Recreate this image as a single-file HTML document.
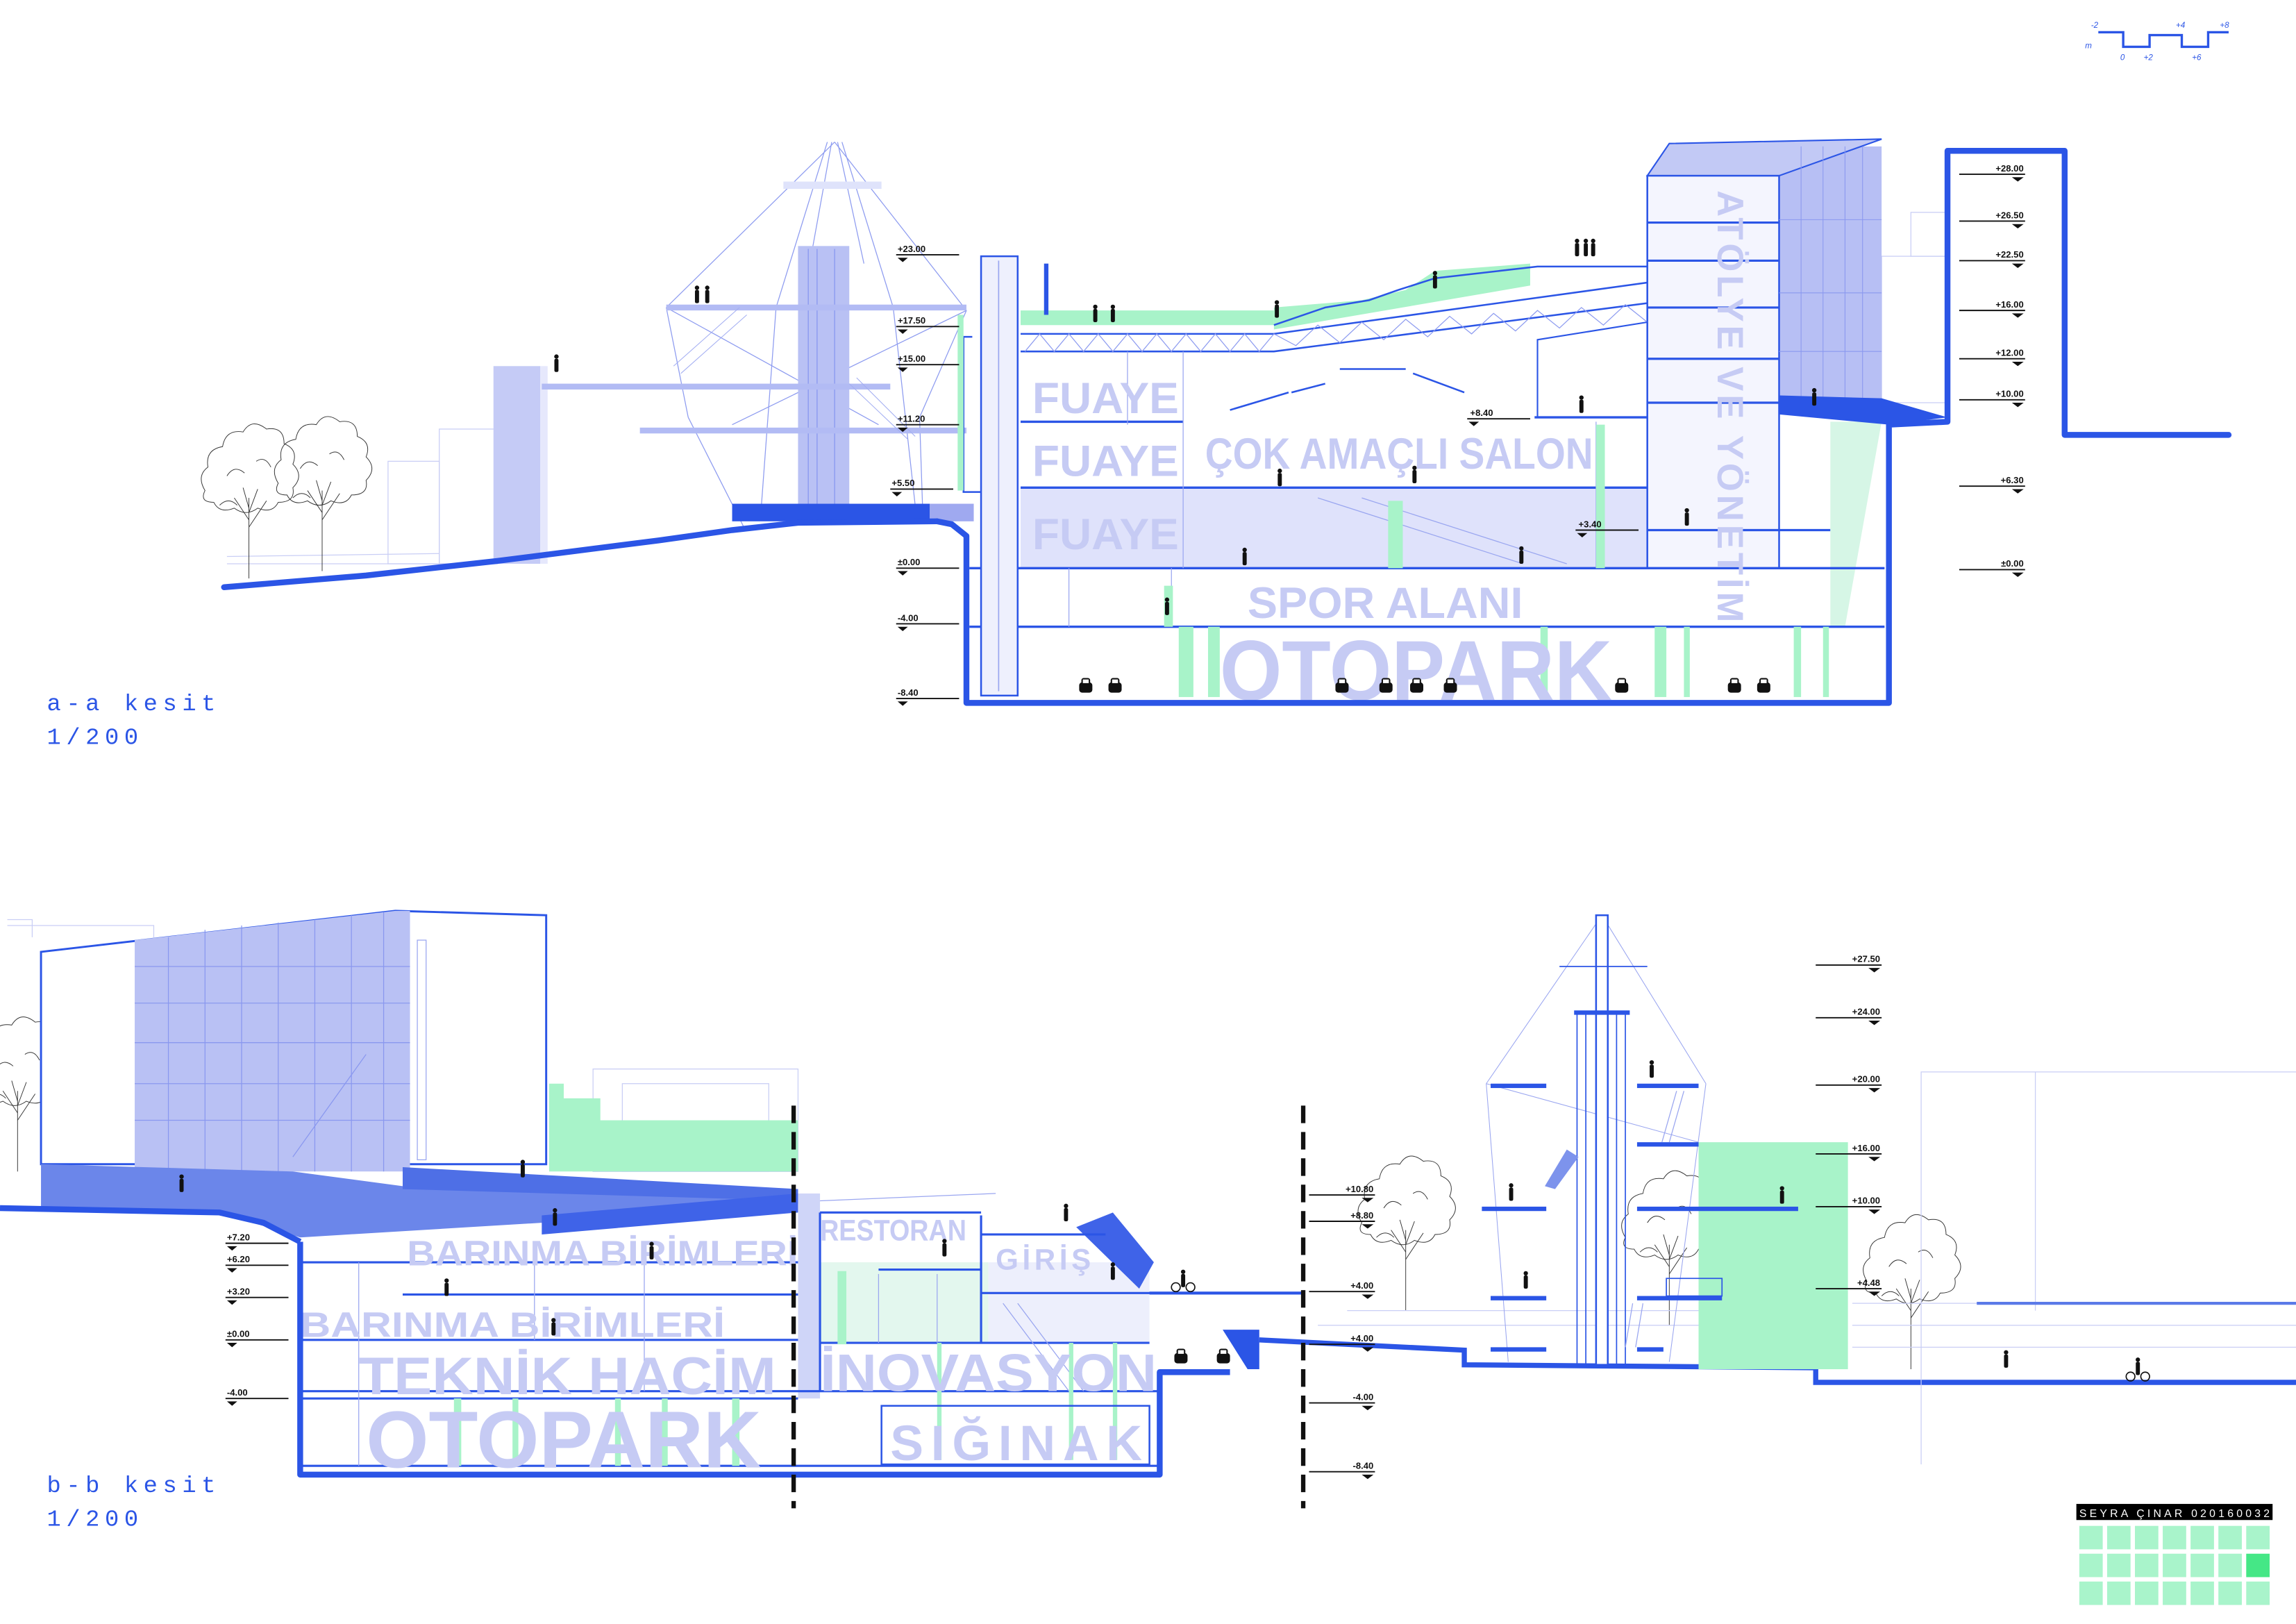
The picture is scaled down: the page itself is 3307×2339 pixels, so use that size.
<!DOCTYPE html>
<html><head><meta charset="utf-8"><style>
html,body{margin:0;padding:0;background:#fff;}
svg{display:block;}
text{font-family:"Liberation Sans",sans-serif;}
.lv{font-size:6.2px;fill:#111;font-weight:bold;}
.big{fill:#c6cbf4;font-weight:bold;}
.ttl{fill:#2b55e6;font-family:"Liberation Mono",monospace;font-size:16px;letter-spacing:3.6px;}
</style></head><body>
<svg width="3307" height="2339" viewBox="0 0 1568 1109" preserveAspectRatio="none" xmlns="http://www.w3.org/2000/svg">
<defs>
<g id="mk"><line x1="0" y1="2" x2="43" y2="2" stroke="#111" stroke-width="0.9"/><polygon points="1,4 8,4 4.5,7" fill="#111"/></g>
<g id="mkr"><line x1="0" y1="2" x2="45" y2="2" stroke="#111" stroke-width="0.9"/><polygon points="36,4 44,4 40,7" fill="#111"/></g>
<g id="car"><rect x="0" y="3" width="9" height="7" rx="2" fill="#111"/><rect x="1.5" y="0" width="6" height="5" rx="1.5" fill="#111"/><rect x="2.5" y="1" width="4" height="2.5" fill="#fff"/></g>
<g id="ppl"><circle cx="2" cy="1.5" r="1.5" fill="#111"/><rect x="0.6" y="3" width="2.8" height="9" rx="1" fill="#111"/></g>
<g id="tree" fill="none" stroke="#333" stroke-width="0.45">
<path d="M0,0 v-55"/><path d="M0,-40 l-10,-15 M0,-35 l12,-18 M0,-48 l-4,-14 M0,-45 l6,-16"/>
<path d="M-30,-60 q-6,-10 2,-16 q-2,-12 10,-14 q2,-12 14,-10 q6,-10 16,-2 q12,-2 12,10 q10,4 6,14 q8,8 0,16 q2,10 -10,10 q-4,8 -14,4 q-8,6 -16,0 q-10,4 -14,-4 q-10,0 -6,-8 z"/>
<path d="M-15,-70 q5,-8 12,-2 M5,-80 q6,-4 10,4 M-20,-50 q6,-6 12,0"/>
</g>
</defs>

<polyline points="1433,22 1450,22 1450,32 1468,32 1468,24 1490,24 1490,32 1508,32 1508,22 1522,22" fill="none" stroke="#2b55e6" stroke-width="1.6"/>
<g fill="#2b55e6" font-size="5.5" font-style="italic">
<text x="1428" y="19">-2</text><text x="1448" y="41">0</text><text x="1464" y="41">+2</text><text x="1486" y="19">+4</text><text x="1497" y="41">+6</text><text x="1516" y="19">+8</text><text x="1424" y="33">m</text></g>

<g fill="none" stroke="#c9cef5" stroke-width="0.6">
<rect x="300" y="293" width="38" height="92"/><rect x="265" y="315" width="35" height="70"/><rect x="1285" y="175" width="45" height="100"/><rect x="1305" y="145" width="25" height="30"/>
<line x1="155" y1="385" x2="340" y2="385"/><line x1="155" y1="380" x2="300" y2="378"/>
</g>
<use href="#tree" x="170" y="395"/><use href="#tree" x="220" y="390"/>
<rect x="337" y="250" width="32" height="135" fill="#c5cbf6"/>
<rect x="369" y="250" width="5" height="135" fill="#e6e8fc"/>
<g stroke="#8e9cf0" stroke-width="0.6" fill="none">
<line x1="570" y1="97" x2="455" y2="210"/><line x1="570" y1="97" x2="660" y2="212"/>
<line x1="565" y1="97" x2="530" y2="210"/><line x1="575" y1="97" x2="610" y2="210"/>
<line x1="568" y1="97" x2="553" y2="180"/><line x1="572" y1="97" x2="590" y2="180"/>
<line x1="455" y1="210" x2="470" y2="285"/><line x1="470" y1="285" x2="508" y2="360"/>
<line x1="660" y1="212" x2="628" y2="285"/><line x1="628" y1="285" x2="630" y2="345"/>
<line x1="530" y1="210" x2="520" y2="345"/><line x1="610" y1="210" x2="625" y2="345"/>
<line x1="455" y1="210" x2="600" y2="290"/><line x1="660" y1="212" x2="500" y2="290"/>
</g>
<rect x="535" y="124" width="67" height="5" fill="#dfe3fb"/>
<rect x="545" y="168" width="35" height="180" fill="#b9c1f4"/>
<g stroke="#8e9cf0" stroke-width="0.7"><line x1="552" y1="170" x2="552" y2="345"/><line x1="558" y1="170" x2="558" y2="345"/><line x1="570" y1="170" x2="570" y2="345"/></g>
<rect x="455" y="208" width="205" height="4" fill="#b2bbf4"/>
<rect x="370" y="262" width="238" height="4" fill="#b2bbf4"/>
<rect x="437" y="292" width="223" height="4" fill="#b2bbf4"/>
<g stroke="#a3aef2" stroke-width="0.5"><line x1="460" y1="250" x2="505" y2="210"/><line x1="465" y1="255" x2="510" y2="215"/><line x1="580" y1="262" x2="620" y2="300"/><line x1="585" y1="258" x2="625" y2="298"/></g>
<use href="#ppl" x="474" y="195"/><use href="#ppl" x="481" y="195"/><use href="#ppl" x="378" y="242"/>
<rect x="500" y="344" width="135" height="12" fill="#2b55e6"/><rect x="635" y="344" width="30" height="12" fill="#9fa9f0"/>
<polyline points="153,401 250,393 340,383 450,369 500,362 545,357 640,356" fill="none" stroke="#2b55e6" stroke-width="4" stroke-linecap="round"/>
<rect x="697" y="333" width="428" height="55" fill="#dfe2fb"/>
<rect x="1215" y="100" width="70" height="180" fill="#b7bff4"/>
<polygon points="1125,120 1140,98 1285,95 1215,120" fill="#c2c9f5" stroke="#2b55e6" stroke-width="1"/>
<rect x="1125" y="120" width="90" height="268" fill="#f4f5fe" stroke="#2b55e6" stroke-width="1.2"/>
<g stroke="#2b55e6" stroke-width="1.5"><line x1="1125" y1="152" x2="1215" y2="152"/><line x1="1125" y1="178" x2="1215" y2="178"/><line x1="1125" y1="210" x2="1215" y2="210"/><line x1="1125" y1="245" x2="1215" y2="245"/><line x1="1125" y1="275" x2="1215" y2="275"/><line x1="1125" y1="362" x2="1250" y2="362"/></g>
<g stroke="#8a98ef" stroke-width="0.5"><line x1="1230" y1="100" x2="1230" y2="280"/><line x1="1245" y1="100" x2="1245" y2="280"/><line x1="1260" y1="100" x2="1260" y2="280"/><line x1="1272" y1="100" x2="1272" y2="280"/><line x1="1215" y1="150" x2="1285" y2="150"/><line x1="1215" y1="200" x2="1285" y2="200"/><line x1="1215" y1="240" x2="1285" y2="240"/></g>
<polygon points="1250,288 1285,288 1260,428 1250,428" fill="#d6f6e6"/>
<polygon points="697,212 870,212 870,222 697,222" fill="#a8f3c9"/>
<polygon points="870,210 930,205 960,198 980,185 1045,180 1045,195 870,225" fill="#a8f3c9"/>
<g fill="none" stroke="#2b55e6" stroke-width="1.2">
<polyline points="697,228 870,228 1125,193"/>
<polyline points="697,240 870,240 1125,207"/>
<polyline points="870,222 905,210 935,205 955,198 980,190 1050,182 1125,182"/>
</g>
<g stroke="#8e9cf0" stroke-width="0.6" fill="none"><polyline points="700,240 710,228 720,240 730,228 740,240 750,228 760,240 770,228 780,240 790,228 800,240 810,228 820,240 830,228 840,240 850,228 860,240 870,228 885,236 900,222 915,234 930,220 945,232 960,218 975,230 990,216 1005,228 1020,214 1035,226 1050,212 1065,224 1080,210 1095,222 1110,208 1125,220"/></g>
<g stroke="#2b55e6" stroke-width="1.6">
<line x1="697" y1="288" x2="808" y2="288"/><line x1="697" y1="333" x2="1125" y2="333"/>
<line x1="662" y1="388" x2="1287" y2="388"/><line x1="662" y1="428" x2="1287" y2="428"/>
<line x1="1048" y1="285" x2="1125" y2="285"/>
</g>
<polyline points="1050,285 1050,232 1125,220" fill="none" stroke="#2b55e6" stroke-width="1"/>
<g stroke="#2b55e6" stroke-width="1.2"><line x1="840" y1="280" x2="880" y2="268"/><line x1="882" y1="268" x2="905" y2="262"/><line x1="915" y1="252" x2="960" y2="252"/><line x1="965" y1="255" x2="1000" y2="268"/></g>
<g stroke="#9aa6f0" stroke-width="0.6"><line x1="808" y1="240" x2="808" y2="333"/><line x1="770" y1="240" x2="770" y2="290"/><line x1="808" y1="333" x2="808" y2="388"/><line x1="1090" y1="288" x2="1090" y2="388"/><line x1="900" y1="340" x2="1040" y2="385"/><line x1="930" y1="340" x2="1070" y2="385"/><line x1="730" y1="388" x2="730" y2="428"/><line x1="800" y1="388" x2="800" y2="428"/></g>
<rect x="670" y="175" width="25" height="300" fill="#eef0fd" stroke="#2b55e6" stroke-width="1.2"/>
<line x1="682" y1="178" x2="682" y2="472" stroke="#9aa6f0" stroke-width="0.8"/>
<rect x="713" y="180" width="3" height="35" fill="#2b55e6"/>
<polyline points="664,230 658,230 658,336 670,336" fill="none" stroke="#2b55e6" stroke-width="1.2"/>
<rect x="654" y="215" width="4" height="120" fill="#a8f3c9"/>
<g fill="#a8f3c9"><rect x="805" y="428" width="10" height="48"/><rect x="825" y="428" width="8" height="48"/><rect x="948" y="342" width="10" height="46"/><rect x="1090" y="290" width="6" height="98"/><rect x="1130" y="428" width="8" height="48"/><rect x="1150" y="428" width="4" height="48"/><rect x="1225" y="428" width="5" height="48"/><rect x="1245" y="428" width="4" height="48"/><rect x="1052" y="428" width="5" height="48"/><rect x="795" y="400" width="6" height="28"/></g>
<text class="big" x="705" y="282" font-size="30" textLength="100" lengthAdjust="spacingAndGlyphs">FUAYE</text>
<text class="big" x="705" y="325" font-size="30" textLength="100" lengthAdjust="spacingAndGlyphs">FUAYE</text>
<text class="big" x="705" y="375" font-size="30" textLength="100" lengthAdjust="spacingAndGlyphs">FUAYE</text>
<text class="big" x="823" y="320" font-size="30" textLength="265" lengthAdjust="spacingAndGlyphs">ÇOK AMAÇLI SALON</text>
<text class="big" x="852" y="422" font-size="30" textLength="188" lengthAdjust="spacingAndGlyphs">SPOR ALANI</text>
<text class="big" x="833" y="478" font-size="58" textLength="268" lengthAdjust="spacingAndGlyphs">OTOPARK</text>
<text class="big" x="0" y="0" font-size="25" textLength="295" transform="translate(1173,130) rotate(90)">ATÖLYE VE YÖNETİM</text>
<polyline points="640,356 650,358 660,366 660,480 1290,480 1290,290 1330,288 1330,103 1410,103 1410,297 1522,297" fill="none" stroke="#2b55e6" stroke-width="4" stroke-linejoin="round" stroke-linecap="round"/>
<polygon points="1215,270 1285,272 1330,285 1290,290 1215,283" fill="#2b55e6"/>
<use href="#car" x="737" y="463"/><use href="#car" x="757" y="463"/><use href="#car" x="912" y="463"/><use href="#car" x="942" y="463"/><use href="#car" x="963" y="463"/><use href="#car" x="986" y="463"/><use href="#car" x="1103" y="463"/><use href="#car" x="1180" y="463"/><use href="#car" x="1200" y="463"/>
<use href="#ppl" x="795" y="408"/><use href="#ppl" x="848" y="374"/><use href="#ppl" x="1037" y="373"/><use href="#ppl" x="964" y="318"/><use href="#ppl" x="872" y="320"/><use href="#ppl" x="1078" y="270"/><use href="#ppl" x="1150" y="347"/><use href="#ppl" x="1237" y="265"/><use href="#ppl" x="746" y="208"/><use href="#ppl" x="758" y="208"/><use href="#ppl" x="870" y="205"/><use href="#ppl" x="978" y="185"/><use href="#ppl" x="1075" y="163"/><use href="#ppl" x="1081" y="163"/><use href="#ppl" x="1086" y="163"/>
<g><text class="lv" x="613" y="172">+23.00</text><use href="#mk" x="612" y="172"/>
<text class="lv" x="613" y="221">+17.50</text><use href="#mk" x="612" y="221"/>
<text class="lv" x="613" y="247">+15.00</text><use href="#mk" x="612" y="247"/>
<text class="lv" x="613" y="288">+11.20</text><use href="#mk" x="612" y="288"/>
<text class="lv" x="609" y="332">+5.50</text><use href="#mk" x="608" y="332"/>
<text class="lv" x="613" y="386">±0.00</text><use href="#mk" x="612" y="386"/>
<text class="lv" x="613" y="424">-4.00</text><use href="#mk" x="612" y="424"/>
<text class="lv" x="613" y="475">-8.40</text><use href="#mk" x="612" y="475"/>
<text class="lv" x="1004" y="284">+8.40</text><use href="#mk" x="1002" y="284"/>
<text class="lv" x="1078" y="360">+3.40</text><use href="#mk" x="1076" y="360"/></g>
<g text-anchor="end"><text class="lv" x="1382" y="117">+28.00</text><use href="#mkr" x="1338" y="117"/>
<text class="lv" x="1382" y="149">+26.50</text><use href="#mkr" x="1338" y="149"/>
<text class="lv" x="1382" y="176">+22.50</text><use href="#mkr" x="1338" y="176"/>
<text class="lv" x="1382" y="210">+16.00</text><use href="#mkr" x="1338" y="210"/>
<text class="lv" x="1382" y="243">+12.00</text><use href="#mkr" x="1338" y="243"/>
<text class="lv" x="1382" y="271">+10.00</text><use href="#mkr" x="1338" y="271"/>
<text class="lv" x="1382" y="330">+6.30</text><use href="#mkr" x="1338" y="330"/>
<text class="lv" x="1382" y="387">±0.00</text><use href="#mkr" x="1338" y="387"/></g>
<text class="ttl" x="32" y="485">a-a kesit</text>
<text class="ttl" x="32" y="508">1/200</text>

<g fill="none" stroke="#c9cef5" stroke-width="0.6"><polyline points="5,628 22,628 22,640"/><polyline points="5,632 105,632 105,640"/><rect x="405" y="730" width="140" height="70"/><rect x="425" y="740" width="100" height="60"/></g>
<polygon points="375,740 385,740 385,750 410,750 410,765 545,765 545,800 375,800" fill="#a8f3c9"/>
<use href="#tree" x="12" y="800"/>
<polygon points="28,650 270,622 373,625 373,795 28,795" fill="#fff" stroke="#2b55e6" stroke-width="1.4"/>
<polygon points="92,642 270,622 280,622 280,800 92,800" fill="#b9c1f4"/>
<g stroke="#8a98ef" stroke-width="0.6"><line x1="92" y1="660" x2="280" y2="660"/><line x1="92" y1="685" x2="280" y2="685"/><line x1="92" y1="712" x2="280" y2="712"/><line x1="92" y1="740" x2="280" y2="740"/><line x1="92" y1="765" x2="280" y2="765"/><line x1="115" y1="640" x2="115" y2="800"/><line x1="140" y1="635" x2="140" y2="800"/><line x1="165" y1="632" x2="165" y2="800"/><line x1="190" y1="630" x2="190" y2="800"/><line x1="215" y1="628" x2="215" y2="800"/><line x1="240" y1="625" x2="240" y2="800"/><line x1="262" y1="623" x2="262" y2="800"/><line x1="200" y1="790" x2="250" y2="720"/></g>
<rect x="285" y="642" width="6" height="150" fill="none" stroke="#9aa6f0" stroke-width="0.6"/>
<polygon points="28,795 200,800 275,810 545,812 545,822 370,835 205,845 150,828 28,825" fill="#6b86ea"/>
<polygon points="275,797 545,812 545,820 275,812" fill="#4e6fe6"/>
<polygon points="370,830 545,815 545,828 370,843" fill="#3f63e8"/>
<polyline points="0,825 150,828 180,835 205,848" fill="none" stroke="#2b55e6" stroke-width="4"/>
<rect x="545" y="815" width="15" height="140" fill="#cfd5f8"/>
<rect x="560" y="862" width="115" height="55" fill="#e3f7ee"/>
<rect x="675" y="862" width="110" height="55" fill="#edeffc"/>
<polygon points="735,838 760,828 788,862 778,880" fill="#3f63e8"/>
<g stroke="#2b55e6" stroke-width="1.5">
<line x1="205" y1="862" x2="545" y2="862"/><line x1="275" y1="884" x2="545" y2="884"/><line x1="205" y1="915" x2="545" y2="915"/><line x1="205" y1="950" x2="792" y2="950"/><line x1="205" y1="955" x2="545" y2="955"/><line x1="205" y1="1001" x2="792" y2="1001"/>
<line x1="560" y1="828" x2="670" y2="828"/><line x1="600" y1="867" x2="670" y2="867"/><line x1="560" y1="917" x2="785" y2="917"/><line x1="670" y1="843" x2="755" y2="843"/><line x1="670" y1="883" x2="890" y2="883"/>
<line x1="670" y1="830" x2="670" y2="917"/><line x1="560" y1="828" x2="560" y2="950"/>
</g>
<g stroke="#9aa6f0" stroke-width="0.6"><line x1="245" y1="862" x2="245" y2="1001"/><line x1="365" y1="862" x2="365" y2="915"/><line x1="440" y1="862" x2="440" y2="950"/><line x1="600" y1="870" x2="600" y2="917"/><line x1="640" y1="870" x2="640" y2="917"/><line x1="685" y1="890" x2="730" y2="950"/><line x1="695" y1="890" x2="740" y2="950"/><line x1="560" y1="820" x2="680" y2="815"/></g>
<g fill="#a8f3c9"><rect x="310" y="955" width="5" height="46"/><rect x="350" y="955" width="4" height="46"/><rect x="420" y="955" width="4" height="46"/><rect x="452" y="955" width="4" height="46"/><rect x="500" y="955" width="5" height="46"/><rect x="640" y="917" width="3" height="80"/><rect x="730" y="917" width="3" height="80"/><rect x="760" y="917" width="3" height="80"/><rect x="572" y="868" width="6" height="50"/></g>
<rect x="602" y="960" width="183" height="40" fill="none" stroke="#2b55e6" stroke-width="1.2"/>
<text class="big" x="278" y="864" font-size="24" textLength="267" lengthAdjust="spacingAndGlyphs">BARINMA BİRİMLERİ</text>
<text class="big" x="205" y="913" font-size="24" textLength="290" lengthAdjust="spacingAndGlyphs">BARINMA BİRİMLERİ</text>
<text class="big" x="245" y="952" font-size="36" textLength="285" lengthAdjust="spacingAndGlyphs">TEKNİK HACİM</text>
<text class="big" x="560" y="950" font-size="36" textLength="230" lengthAdjust="spacingAndGlyphs">İNOVASYON</text>
<text class="big" x="250" y="1002" font-size="55" textLength="270" lengthAdjust="spacingAndGlyphs">OTOPARK</text>
<text class="big" x="608" y="997" font-size="34" textLength="172">SIĞINAK</text>
<text class="big" x="560" y="847" font-size="20" textLength="100" lengthAdjust="spacingAndGlyphs">RESTORAN</text>
<text class="big" x="680" y="867" font-size="20" textLength="65">GİRİŞ</text>
<polyline points="205,848 205,1007 792,1007 792,937 840,937" fill="none" stroke="#2b55e6" stroke-width="4" stroke-linejoin="round"/>
<polygon points="835,908 860,908 860,935 852,935" fill="#2b55e6"/>
<line x1="785" y1="883" x2="890" y2="883" stroke="#2b55e6" stroke-width="2"/>
<polyline points="860,915 1000,922 1000,932 1240,934 1240,944 1568,944" fill="none" stroke="#2b55e6" stroke-width="3.5"/>
<line x1="542" y1="755" x2="542" y2="1030" stroke="#111" stroke-width="3" stroke-dasharray="12,6"/>
<line x1="890" y1="755" x2="890" y2="1030" stroke="#111" stroke-width="3" stroke-dasharray="12,6"/>
<use href="#tree" x="960" y="895"/><use href="#tree" x="1305" y="935"/><use href="#tree" x="1140" y="905"/>
<g fill="none" stroke="#c9cef5" stroke-width="0.6"><polyline points="1312,1000 1312,732 1568,732"/><line x1="1390" y1="732" x2="1390" y2="895"/><line x1="1265" y1="890" x2="1568" y2="890"/><line x1="1265" y1="905" x2="1568" y2="905"/><line x1="1265" y1="920" x2="1568" y2="920"/><line x1="900" y1="905" x2="1160" y2="905"/><line x1="920" y1="895" x2="1160" y2="895"/></g>
<line x1="1350" y1="890" x2="1568" y2="890" stroke="#5b7ae8" stroke-width="2"/>
<rect x="1160" y="780" width="102" height="155" fill="#a8f3c9"/>
<g stroke="#9aa6f0" stroke-width="0.5" fill="none"><line x1="1094" y1="625" x2="1015" y2="740"/><line x1="1094" y1="625" x2="1165" y2="740"/><line x1="1015" y1="740" x2="1030" y2="930"/><line x1="1165" y1="740" x2="1140" y2="930"/><line x1="1015" y1="740" x2="1160" y2="780"/></g>
<rect x="1090" y="625" width="8" height="307" fill="#fff" stroke="#2b55e6" stroke-width="1.2"/>
<g stroke="#2b55e6" stroke-width="0.8"><line x1="1077" y1="692" x2="1077" y2="932"/><line x1="1083" y1="692" x2="1083" y2="932"/><line x1="1104" y1="692" x2="1104" y2="932"/><line x1="1110" y1="692" x2="1110" y2="932"/><line x1="1065" y1="660" x2="1125" y2="660"/></g>
<rect x="1075" y="690" width="38" height="3" fill="#2b55e6"/>
<g fill="#2b55e6"><rect x="1018" y="740" width="38" height="3"/><rect x="1118" y="740" width="42" height="3"/><rect x="1118" y="780" width="42" height="3"/><rect x="1012" y="824" width="44" height="3"/><rect x="1118" y="824" width="110" height="3"/><rect x="1018" y="885" width="38" height="3"/><rect x="1118" y="885" width="58" height="3"/><rect x="1018" y="920" width="38" height="3"/><rect x="1118" y="920" width="18" height="3"/></g>
<rect x="1138" y="873" width="38" height="12" fill="none" stroke="#2b55e6" stroke-width="0.8"/>
<polygon points="1055,810 1070,785 1078,790 1062,812" fill="#7d93ec"/>
<g stroke="#9aa6f0" stroke-width="0.6"><line x1="1145" y1="745" x2="1135" y2="780"/><line x1="1150" y1="745" x2="1140" y2="780"/><line x1="1115" y1="890" x2="1110" y2="920"/><line x1="1122" y1="890" x2="1117" y2="920"/></g>
<use href="#ppl" x="122" y="802"/><use href="#ppl" x="355" y="792"/><use href="#ppl" x="377" y="825"/><use href="#ppl" x="443" y="848"/><use href="#ppl" x="303" y="873"/><use href="#ppl" x="376" y="900"/><use href="#ppl" x="643" y="846"/><use href="#ppl" x="726" y="822"/><use href="#ppl" x="758" y="862"/><use href="#ppl" x="1126" y="724"/><use href="#ppl" x="1040" y="868"/><use href="#ppl" x="1215" y="810"/><use href="#ppl" x="1368" y="922"/><use href="#ppl" x="1030" y="808"/>
<g fill="none" stroke="#111" stroke-width="0.8"><circle cx="803" cy="879" r="3"/><circle cx="813" cy="879" r="3"/><circle cx="1455" cy="940" r="3"/><circle cx="1465" cy="940" r="3"/></g>
<use href="#ppl" x="806" y="867"/><use href="#ppl" x="1458" y="927"/>
<use href="#car" x="802" y="921"/><use href="#car" x="831" y="921"/>
<g><text class="lv" x="155" y="847">+7.20</text><use href="#mk" x="154" y="847"/>
<text class="lv" x="155" y="862">+6.20</text><use href="#mk" x="154" y="862"/>
<text class="lv" x="155" y="884">+3.20</text><use href="#mk" x="154" y="884"/>
<text class="lv" x="155" y="913">±0.00</text><use href="#mk" x="154" y="913"/>
<text class="lv" x="155" y="953">-4.00</text><use href="#mk" x="154" y="953"/></g>
<g text-anchor="end"><text class="lv" x="938" y="814">+10.80</text><use href="#mkr" x="894" y="814"/>
<text class="lv" x="938" y="832">+8.80</text><use href="#mkr" x="894" y="832"/>
<text class="lv" x="938" y="880">+4.00</text><use href="#mkr" x="894" y="880"/>
<text class="lv" x="938" y="916">+4.00</text><use href="#mkr" x="894" y="916"/>
<text class="lv" x="938" y="956">-4.00</text><use href="#mkr" x="894" y="956"/>
<text class="lv" x="938" y="1003">-8.40</text><use href="#mkr" x="894" y="1003"/>
<text class="lv" x="1284" y="657">+27.50</text><use href="#mkr" x="1240" y="657"/>
<text class="lv" x="1284" y="693">+24.00</text><use href="#mkr" x="1240" y="693"/>
<text class="lv" x="1284" y="739">+20.00</text><use href="#mkr" x="1240" y="739"/>
<text class="lv" x="1284" y="786">+16.00</text><use href="#mkr" x="1240" y="786"/>
<text class="lv" x="1284" y="822">+10.00</text><use href="#mkr" x="1240" y="822"/>
<text class="lv" x="1284" y="878">+4.48</text><use href="#mkr" x="1240" y="878"/></g>
<text class="ttl" x="32" y="1019">b-b kesit</text>
<text class="ttl" x="32" y="1042">1/200</text>

<rect x="1418" y="1027" width="134" height="11" fill="#000"/>
<text x="1420" y="1036" fill="#fff" font-size="7.5" font-family="Liberation Mono, monospace" textLength="130">SEYRA ÇINAR 020160032</text>
<g fill="#a9f4cb">
<rect x="1420" y="1042" width="16" height="16"/><rect x="1439" y="1042" width="16" height="16"/><rect x="1458" y="1042" width="16" height="16"/><rect x="1477" y="1042" width="16" height="16"/><rect x="1496" y="1042" width="16" height="16"/><rect x="1515" y="1042" width="16" height="16"/><rect x="1534" y="1042" width="16" height="16"/>
<rect x="1420" y="1061" width="16" height="16"/><rect x="1439" y="1061" width="16" height="16"/><rect x="1458" y="1061" width="16" height="16"/><rect x="1477" y="1061" width="16" height="16"/><rect x="1496" y="1061" width="16" height="16"/><rect x="1515" y="1061" width="16" height="16"/>
<rect x="1420" y="1080" width="16" height="16"/><rect x="1439" y="1080" width="16" height="16"/><rect x="1458" y="1080" width="16" height="16"/><rect x="1477" y="1080" width="16" height="16"/><rect x="1496" y="1080" width="16" height="16"/><rect x="1515" y="1080" width="16" height="16"/><rect x="1534" y="1080" width="16" height="16"/>
</g>
<rect x="1534" y="1061" width="16" height="16" fill="#45e786"/>
</svg>
</body></html>
